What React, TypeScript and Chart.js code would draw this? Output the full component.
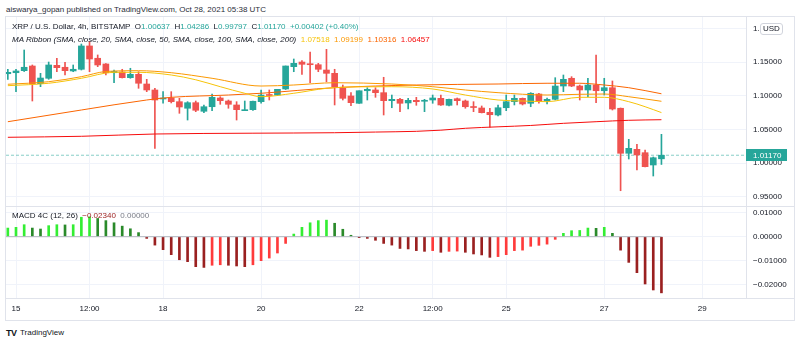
import React, { useEffect, useRef } from "react";
import { Chart, registerables } from "chart.js";

Chart.register(...registerables);

// ---- Data (XRP / USD, 4h candles from Oct 14 20:00 to Oct 28 04:00) ----
const opens = [
  1.1330, 1.1345, 1.1375, 1.1445, 1.1182, 1.1262, 1.1455, 1.1426, 1.1371, 1.1396,
  1.1743, 1.1560, 1.1475, 1.1345, 1.1356, 1.1271, 1.1321, 1.1177, 1.1088, 1.0954,
  1.0969, 1.0914, 1.0816, 1.0899, 1.0771, 1.0839, 1.0969, 1.0924, 1.0865, 1.0780,
  1.0795, 1.0914, 1.1021, 1.1013, 1.1103, 1.1435, 1.1504, 1.1475, 1.1464, 1.1385,
  1.1336, 1.1113, 1.0999, 1.0890, 1.1077, 1.1088, 1.1048, 1.0929, 1.0949, 1.0895,
  1.0934, 1.0920, 1.0939, 1.0964, 1.0860, 1.0958, 1.0924, 1.0839, 1.0820, 1.0756,
  1.0716, 1.0824, 1.0914, 1.0964, 1.0890, 1.1028, 1.0924, 1.0949, 1.1147, 1.1262,
  1.1147, 1.1088, 1.1162, 1.1077, 1.1122, 1.0816, 1.0146, 1.0205, 1.0155, 0.9972,
  1.00637,
];
const highs = [
  1.1396, 1.1396, 1.1683, 1.1460, 1.1336, 1.1504, 1.1560, 1.1500, 1.1460, 1.1772,
  1.1807, 1.1609, 1.1482, 1.1385, 1.1396, 1.1411, 1.1360, 1.1247, 1.1113, 1.1063,
  1.1063, 1.0964, 1.0914, 1.0924, 1.0865, 1.1028, 1.0988, 1.0939, 1.0914, 1.0924,
  1.0924, 1.1088, 1.1088, 1.1098, 1.1445, 1.1549, 1.1524, 1.1653, 1.1485, 1.1693,
  1.1396, 1.1162, 1.1048, 1.1077, 1.1122, 1.1122, 1.1277, 1.1013, 1.0964, 1.0964,
  1.0979, 1.0949, 1.1013, 1.1013, 1.0954, 1.0969, 1.0939, 1.0914, 1.0850, 1.0816,
  1.0865, 1.1013, 1.1013, 1.0969, 1.1048, 1.1039, 1.0969, 1.1271, 1.1311, 1.1286,
  1.1162, 1.1262, 1.1609, 1.1262, 1.1222, 1.0820, 1.0354, 1.0280, 1.0195, 1.0091,
  1.04286,
];
const lows = [
  1.1247, 1.1063, 1.1363, 1.0924, 1.1137, 1.1247, 1.1360, 1.1311, 1.1360, 1.1385,
  1.1360, 1.1435, 1.1311, 1.1196, 1.1266, 1.1262, 1.1113, 1.1063, 1.0220, 1.0890,
  1.0895, 1.0741, 1.0641, 1.0765, 1.0750, 1.0780, 1.0875, 1.0816, 1.0641, 1.0780,
  1.0783, 1.0890, 1.0939, 1.1006, 1.1095, 1.1360, 1.1321, 1.1196, 1.1360, 1.1211,
  1.0865, 1.0939, 1.0854, 1.0887, 1.0939, 1.0979, 1.0716, 1.0824, 1.0765, 1.0805,
  1.0860, 1.0765, 1.0890, 1.0858, 1.0850, 1.0865, 1.0816, 1.0765, 1.0746, 1.0533,
  1.0701, 1.0780, 1.0865, 1.0865, 1.0839, 1.0890, 1.0880, 1.0939, 1.1063, 1.1137,
  1.0939, 1.0988, 1.0899, 1.1013, 1.0790, 0.9589, 1.0061, 0.9897, 0.9942, 0.9808,
  0.99797,
];
const closes = [
  1.1351, 1.1371, 1.1426, 1.1182, 1.1266, 1.1460, 1.1420, 1.1375, 1.1396, 1.1743,
  1.1549, 1.1460, 1.1345, 1.1363, 1.1271, 1.1321, 1.1188, 1.1088, 1.0939, 1.0969,
  1.0914, 1.0835, 1.0899, 1.0786, 1.0839, 1.0979, 1.0929, 1.0875, 1.0795, 1.0795,
  1.0920, 1.1013, 1.1006, 1.1098, 1.1445, 1.1485, 1.1470, 1.1464, 1.1396, 1.1336,
  1.1137, 1.0964, 1.0899, 1.1077, 1.1098, 1.1048, 1.0929, 1.0949, 1.0890, 1.0934,
  1.0914, 1.0934, 1.0969, 1.0865, 1.0949, 1.0929, 1.0839, 1.0827, 1.0750, 1.0720,
  1.0824, 1.0914, 1.0964, 1.0880, 1.1039, 1.0914, 1.0949, 1.1147, 1.1247, 1.1147,
  1.1088, 1.1162, 1.1077, 1.1122, 1.0805, 1.0146, 1.0220, 1.0121, 0.9947, 1.0080,
  1.01170,
];

// MACD 4C histogram (12, 26)
const macdHist = [
  0.0036, 0.0039, 0.0050, 0.0036, 0.0032, 0.0046, 0.0050, 0.0049, 0.0050, 0.0081,
  0.0083, 0.0076, 0.0067, 0.0058, 0.0044, 0.0033, 0.0017, -0.0007, -0.0035, -0.0054,
  -0.0075, -0.0096, -0.0104, -0.0125, -0.0128, -0.0119, -0.0117, -0.0119, -0.0122, -0.0125,
  -0.0117, -0.0100, -0.0089, -0.0068, -0.0028, 0.0011, 0.0039, 0.0058, 0.0067, 0.0069,
  0.0056, 0.0031, 0.0006, -0.0004, -0.0007, -0.0015, -0.0028, -0.0035, -0.0049, -0.0051,
  -0.0058, -0.0061, -0.0058, -0.0065, -0.0061, -0.0060, -0.0065, -0.0072, -0.0076, -0.0086,
  -0.0083, -0.0075, -0.0058, -0.0056, -0.0040, -0.0036, -0.0031, -0.0011, 0.0014, 0.0025,
  0.0026, 0.0036, 0.0035, 0.0039, 0.0014, -0.0056, -0.0107, -0.0150, -0.0197, -0.0222,
  -0.0234,
];

// MA Ribbon values read at candle indices: [index, value]
const ma20 = [
  [0, 1.1152], [5, 1.1188], [9, 1.1262], [13, 1.1351], [16, 1.1351], [20, 1.1311],
  [23, 1.1240], [26, 1.1137], [29, 1.1039], [31, 1.0988], [35, 1.1039], [39, 1.1113],
  [43, 1.1135], [47, 1.1137], [52, 1.1103], [56, 1.1013], [60, 1.0939], [63, 1.0924],
  [66, 1.0914], [70, 1.0979], [73, 1.0979], [76, 1.0914], [78, 1.0839], [80, 1.07518],
];
const ma50 = [
  [0, 1.1173], [5, 1.1211], [9, 1.1286], [12, 1.1363], [16, 1.1375], [20, 1.1345],
  [25, 1.1262], [31, 1.1147], [35, 1.1162], [40, 1.1196], [47, 1.1177], [52, 1.1137],
  [56, 1.1088], [60, 1.1048], [66, 1.1013], [70, 1.1024], [73, 1.1028], [76, 1.0988],
  [80, 1.09199],
];
const ma100 = [
  [0, 1.0616], [9, 1.0790], [17, 1.0939], [20, 1.0979], [27, 1.1013], [31, 1.1039],
  [40, 1.1122], [50, 1.1162], [60, 1.1177], [66, 1.1188], [70, 1.1188], [73, 1.1162],
  [76, 1.1122], [80, 1.10316],
];
const ma200 = [
  [0, 1.0384], [9, 1.0399], [18, 1.0433], [30, 1.0445], [40, 1.0452], [45, 1.0462],
  [50, 1.0473], [53, 1.0490], [56, 1.0518], [60, 1.0540], [64, 1.0560], [68, 1.0592],
  [72, 1.0616], [76, 1.0637], [80, 1.06457],
];

const priceTicks = [0.95, 1.0, 1.05, 1.1, 1.15, 1.2];
const macdTicks = [-0.02, -0.01, 0, 0.01];
const timeTickIdx = [1, 10, 19, 31, 43, 52, 61, 73, 85];
const timeTickLabels = ["15", "12:00", "18", "20", "22", "12:00", "25", "27", "29"];
const lastClose = 1.0117;

// ---- Scale ranges & styles ----
const X_MIN = -0.224;
const X_MAX = 90.35;
const PRICE_MIN = 0.93617;
const PRICE_MAX = 1.2174;
const MACD_MIN = -0.025542;
const MACD_MAX = 0.012792;

const FONT = '"Liberation Sans", Arial, sans-serif';
const UP = "#26a69a";
const DOWN = "#ef5350";
const GRID = "#f0f3fa";
const FRAME = "#e0e3eb";
const TEXT = "#131722";
const LIME = "#33ee33";
const GREEN = "#2a8a2a";
const RED = "#ff3b3b";
const MAROON = "#9a2020";

export default function App() {
  const mainRef = useRef<HTMLCanvasElement>(null);
  const macdRef = useRef<HTMLCanvasElement>(null);

  useEffect(() => {
    const idx = closes.map((_, i) => i);
    const candleColors = idx.map((i) => (closes[i] >= opens[i] ? UP : DOWN));

    const maLine = (pts: number[][], color: string) => ({
      type: "line" as const,
      data: pts.map(([x, y]) => ({ x, y })),
      borderColor: color,
      borderWidth: 1,
      pointRadius: 0,
      cubicInterpolationMode: "monotone" as const,
      order: 0,
    });

    const priceTag = {
      id: "priceTag",
      afterDraw(chart: any) {
        const { ctx, chartArea, scales } = chart;
        const y = Math.round(scales.y.getPixelForValue(lastClose));
        ctx.save();
        ctx.fillStyle = UP;
        ctx.fillRect(chartArea.right, y - 6, 41, 12);
        ctx.fillStyle = "#ffffff";
        ctx.font = `8px ${FONT}`;
        ctx.textBaseline = "middle";
        ctx.textAlign = "left";
        ctx.fillText(lastClose.toFixed(5), chartArea.right + 7, y + 0.5);
        ctx.restore();
      },
    };

    const xTicksBuild = (s: any) => {
      s.ticks = timeTickIdx.map((v) => ({ value: v }));
    };

    const main = new Chart(mainRef.current as HTMLCanvasElement, {
      type: "bar",
      data: {
        datasets: [
          maLine(ma20, "#f6c309"),
          maLine(ma50, "#fb9800"),
          maLine(ma100, "#fb6500"),
          maLine(ma200, "#f60c0c"),
          {
            type: "bar",
            data: idx.map((i) => ({ x: i, y: [opens[i], closes[i]] })),
            backgroundColor: candleColors,
            borderWidth: 0,
            barThickness: 6,
            minBarLength: 1,
            grouped: false,
            order: 1,
          } as any,
          {
            type: "bar",
            data: idx.map((i) => ({ x: i, y: [lows[i], highs[i]] })),
            backgroundColor: candleColors,
            borderWidth: 0,
            barThickness: 1,
            grouped: false,
            order: 2,
          } as any,
          {
            type: "line",
            data: [
              { x: X_MIN, y: lastClose },
              { x: X_MAX, y: lastClose },
            ],
            borderColor: "rgba(38,166,154,0.55)",
            borderDash: [3, 2],
            borderWidth: 1,
            pointRadius: 0,
            order: 3,
          } as any,
        ],
      },
      options: {
        responsive: false,
        maintainAspectRatio: false,
        animation: false,
        layout: { padding: 0 },
        plugins: { legend: { display: false }, tooltip: { enabled: false } },
        scales: {
          x: {
            type: "linear",
            min: X_MIN,
            max: X_MAX,
            offset: false,
            grid: { color: GRID, drawTicks: false, offset: false },
            border: { display: false },
            ticks: { display: false },
            afterBuildTicks: xTicksBuild,
            afterFit: (s: any) => {
              s.height = 0;
              s.paddingLeft = 0;
              s.paddingRight = 0;
            },
          },
          y: {
            position: "right",
            min: PRICE_MIN,
            max: PRICE_MAX,
            grid: { color: GRID, drawTicks: false },
            border: { color: FRAME },
            ticks: {
              padding: 7,
              color: TEXT,
              font: { family: FONT, size: 8 },
              callback: (v: any) => Number(v).toFixed(5),
            },
            afterBuildTicks: (s: any) => {
              s.ticks = priceTicks.map((v) => ({ value: v }));
            },
            afterFit: (s: any) => {
              s.width = 48;
              s.paddingTop = 0;
              s.paddingBottom = 0;
            },
          },
        },
      } as any,
      plugins: [priceTag],
    });

    const macdColors = macdHist.map((v, i) => {
      const prev = i > 0 ? macdHist[i - 1] : v - 1;
      if (v >= 0) return v >= prev ? LIME : GREEN;
      return v < prev ? MAROON : RED;
    });

    const macd = new Chart(macdRef.current as HTMLCanvasElement, {
      type: "bar",
      data: {
        datasets: [
          {
            type: "line",
            data: [
              { x: X_MIN, y: 0 },
              { x: closes.length - 1, y: 0 },
            ],
            borderColor: "#b2b5be",
            borderWidth: 1,
            pointRadius: 0,
            order: 0,
          } as any,
          {
            type: "bar",
            data: macdHist.map((v, i) => ({ x: i, y: v })),
            backgroundColor: macdColors,
            borderWidth: 0,
            barThickness: 2,
            grouped: false,
            order: 1,
          } as any,
        ],
      },
      options: {
        responsive: false,
        maintainAspectRatio: false,
        animation: false,
        layout: { padding: 0 },
        plugins: { legend: { display: false }, tooltip: { enabled: false } },
        scales: {
          x: {
            type: "linear",
            min: X_MIN,
            max: X_MAX,
            offset: false,
            grid: { color: GRID, drawTicks: false, offset: false },
            border: { display: false },
            ticks: {
              padding: 6,
              color: TEXT,
              autoSkip: false,
              maxRotation: 0,
              font: { family: FONT, size: 8 },
              callback: (v: any) => {
                const k = timeTickIdx.indexOf(Number(v));
                return k >= 0 ? timeTickLabels[k] : "";
              },
            },
            afterBuildTicks: xTicksBuild,
            afterFit: (s: any) => {
              s.height = 22;
              s.paddingLeft = 0;
              s.paddingRight = 0;
            },
          },
          y: {
            position: "right",
            min: MACD_MIN,
            max: MACD_MAX,
            grid: { color: GRID, drawTicks: false },
            border: { color: FRAME },
            ticks: {
              padding: 7,
              color: TEXT,
              font: { family: FONT, size: 8 },
              callback: (v: any) => {
                const n = Number(v);
                return n < 0 ? "\u2212" + Math.abs(n).toFixed(5) : Math.abs(n).toFixed(5);
              },
            },
            afterBuildTicks: (s: any) => {
              s.ticks = macdTicks.map((v) => ({ value: v }));
            },
            afterFit: (s: any) => {
              s.width = 48;
              s.paddingTop = 0;
              s.paddingBottom = 0;
            },
          },
        },
      } as any,
    });

    return () => {
      main.destroy();
      macd.destroy();
    };
  }, []);

  const abs = (left: number, top: number, extra: React.CSSProperties = {}): React.CSSProperties => ({
    position: "absolute",
    left,
    top,
    whiteSpace: "nowrap",
    lineHeight: "10px",
    fontSize: 8,
    color: TEXT,
    ...extra,
  });

  return (
    <div
      style={{
        position: "fixed",
        left: 0,
        top: 0,
        width: 800,
        height: 343,
        background: "#ffffff",
        overflow: "hidden",
        fontFamily: FONT,
      }}
    >
      <div style={abs(6, 5, { color: "#2a2e39" })}>
        aiswarya_gopan published on TradingView.com, Oct 28, 2021 05:38 UTC
      </div>

      {/* frame */}
      <div
        style={{
          position: "absolute",
          left: 5,
          top: 16,
          width: 790,
          height: 305,
          border: `1px solid ${FRAME}`,
          boxSizing: "border-box",
        }}
      />

      <canvas
        ref={mainRef}
        width={788}
        height={189}
        style={{ position: "absolute", left: 6, top: 17, width: 788, height: 189 }}
      />
      <canvas
        ref={macdRef}
        width={788}
        height={114}
        style={{ position: "absolute", left: 6, top: 206, width: 788, height: 114 }}
      />

      {/* pane separators */}
      <div style={{ position: "absolute", left: 6, top: 206, width: 788, height: 1, background: FRAME }} />
      <div style={{ position: "absolute", left: 6, top: 298, width: 788, height: 1, background: FRAME }} />

      {/* legends */}
      <div style={abs(12, 22)}>
        XRP / U.S. Dollar, 4h, BITSTAMP&nbsp; O<span style={{ color: UP }}>1.00637</span>&nbsp; H
        <span style={{ color: UP }}>1.04286</span>&nbsp; L<span style={{ color: UP }}>0.99797</span>&nbsp; C
        <span style={{ color: UP }}>1.01170</span>&nbsp; <span style={{ color: UP }}>+0.00402 (+0.40%)</span>
      </div>
      <div style={abs(12, 35)}>
        <span style={{ fontStyle: "italic" }}>
          MA Ribbon (SMA, close, 20, SMA, close, 50, SMA, close, 100, SMA, close, 200)
        </span>
        &nbsp; <span style={{ color: "#f6c309" }}>1.07518</span>&nbsp; <span style={{ color: "#fb9800" }}>1.09199</span>
        &nbsp; <span style={{ color: "#fb6500" }}>1.10316</span>&nbsp; <span style={{ color: "#f60c0c" }}>1.06457</span>
      </div>
      <div style={abs(12, 211)}>
        MACD 4C (12, 26)&nbsp; <span style={{ color: "#9a1c1c" }}>{"\u2212"}0.02340</span>&nbsp;{" "}
        <span style={{ color: "#787b86" }}>0.00000</span>
      </div>

      {/* USD badge */}
      <div
        style={abs(760, 23, {
          height: 12,
          lineHeight: "10px",
          padding: "0 2px",
          border: "1px solid #d1d4dc",
          borderRadius: 3,
          background: "#ffffff",
          boxSizing: "border-box",
        })}
      >
        USD
      </div>

      {/* logo */}
      <div style={abs(6, 328, { fontSize: 9, fontWeight: 700, letterSpacing: -0.5 })}>TV</div>
      <div style={abs(20, 328)}>TradingView</div>
    </div>
  );
}
